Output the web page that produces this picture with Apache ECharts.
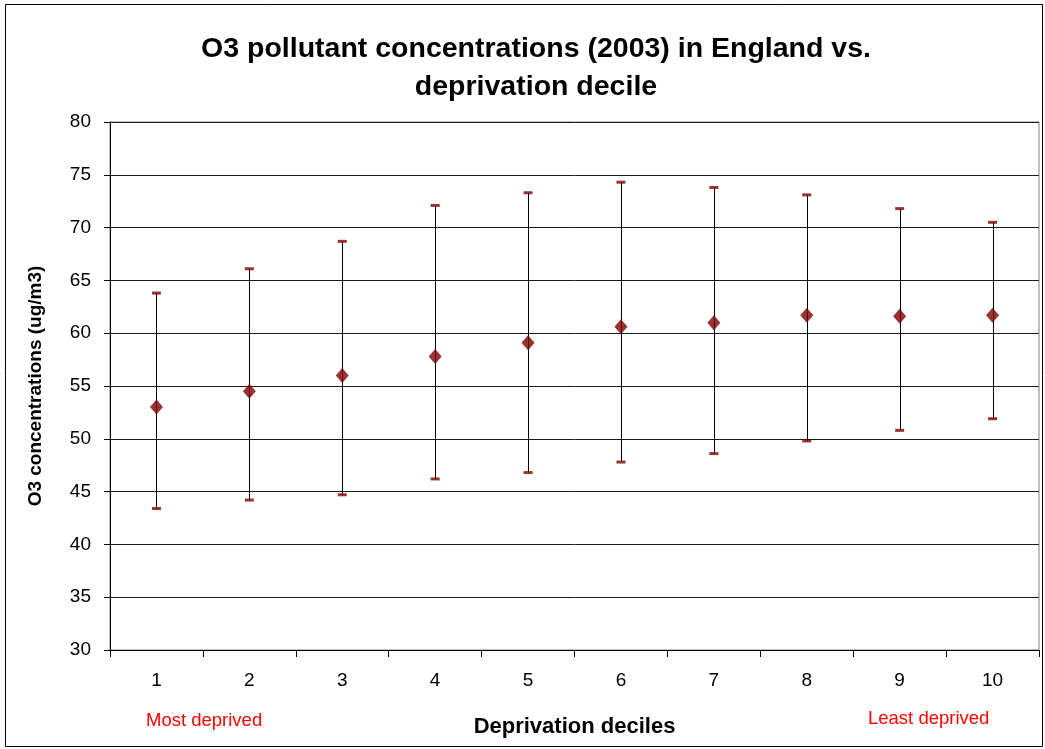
<!DOCTYPE html>
<html><head><meta charset="utf-8">
<script src="https://cdn.jsdelivr.net/npm/echarts@6/dist/echarts.min.js"></script>
<style>html,body{margin:0;padding:0;background:#fff}#c{width:1045px;height:749px}</style>
</head><body><div id="c"></div>
<script>
const categories = ['1','2','3','4','5','6','7','8','9','10'];
const meanValues = [53.0, 54.5, 56.0, 57.8, 59.1, 60.6, 61.0, 61.7, 61.6, 61.7];
const upperValues = [63.8, 66.1, 68.7, 72.1, 73.3, 74.3, 73.8, 73.1, 71.8, 70.5];
const lowerValues = [43.4, 44.2, 44.7, 46.2, 46.8, 47.8, 48.6, 49.8, 50.8, 51.9];
const yTicks = [30, 35, 40, 45, 50, 55, 60, 65, 70, 75, 80];

const chart = echarts.init(document.getElementById('c'), null, {renderer: 'canvas'});
const font = 'Liberation Sans, Arial, sans-serif';
const red = '#800000';

chart.setOption({
  animation: false,
  backgroundColor: '#fff',
  title: {
    text: 'O3 pollutant concentrations (2003) in England vs.\ndeprivation decile',
    left: 531, top: 25, textAlign: 'center',
    textStyle: {fontFamily: font, fontWeight: 'bold', fontSize: 28.5, lineHeight: 38, color: '#000'}
  },
  graphic: [
    {type: 'rect', shape: {x: 5.5, y: 4.5, width: 1037, height: 742}, style: {fill: 'none', stroke: '#000', lineWidth: 1}, silent: true, z: -1},
    {type: 'text', left: 146, top: 711, style: {text: 'Most deprived', fill: '#ff0000', font: '18.5px ' + font}},
    {type: 'text', left: 868, top: 709, style: {text: 'Least deprived', fill: '#ff0000', font: '18.5px ' + font}}
  ],
  grid: {left: 110, right: 6, top: 122, bottom: 99, show: true, borderColor: '#808080', borderWidth: 1, backgroundColor: 'transparent'},
  xAxis: {
    type: 'category', data: categories, boundaryGap: true,
    name: 'Deprivation deciles', nameLocation: 'middle', nameGap: 66,
    nameTextStyle: {fontFamily: font, fontWeight: 'bold', fontSize: 22, color: '#000'},
    axisLine: {lineStyle: {color: '#000', width: 1}},
    axisTick: {show: true, length: 7, alignWithLabel: false, lineStyle: {color: '#000'}},
    axisLabel: {fontFamily: font, fontSize: 19, color: '#000', margin: 21},
    splitLine: {show: false}
  },
  yAxis: {
    type: 'value', min: 30, max: 80, interval: 5,
    name: 'O3 concentrations (ug/m3)', nameLocation: 'middle', nameGap: 65,
    nameTextStyle: {fontFamily: font, fontWeight: 'bold', fontSize: 19, color: '#000'},
    axisLine: {show: true, lineStyle: {color: '#000', width: 1}},
    axisTick: {show: true, length: 6, lineStyle: {color: '#000'}},
    axisLabel: {fontFamily: font, fontSize: 19, color: '#000', margin: 19,
      formatter: v => yTicks.includes(v) ? String(v) : ''},
    splitLine: {show: true, lineStyle: {color: '#1a1a1a', width: 1}}
  },
  series: [
    {
      type: 'custom', name: 'range',
      data: categories.map((c, i) => [i, lowerValues[i], upperValues[i]]),
      encode: {x: 0, y: [1, 2]},
      renderItem: function (params, api) {
        const lo = api.coord([api.value(0), api.value(1)]);
        const hi = api.coord([api.value(0), api.value(2)]);
        const x = Math.round(lo[0]) + 0.5;
        return {type: 'line', shape: {x1: x, y1: lo[1], x2: x, y2: hi[1]},
          style: {stroke: '#000', lineWidth: 1}};
      },
      z: 2
    },
    {
      type: 'scatter', name: 'upper', data: upperValues,
      symbol: 'rect', symbolSize: [9, 3], itemStyle: {color: red}, z: 3
    },
    {
      type: 'scatter', name: 'lower', data: lowerValues,
      symbol: 'rect', symbolSize: [9, 3], itemStyle: {color: red}, z: 3
    },
    {
      type: 'scatter', name: 'mean', data: meanValues,
      symbol: 'diamond', symbolSize: [13, 15], itemStyle: {color: red}, z: 4
    }
  ]
});
</script></body></html>
